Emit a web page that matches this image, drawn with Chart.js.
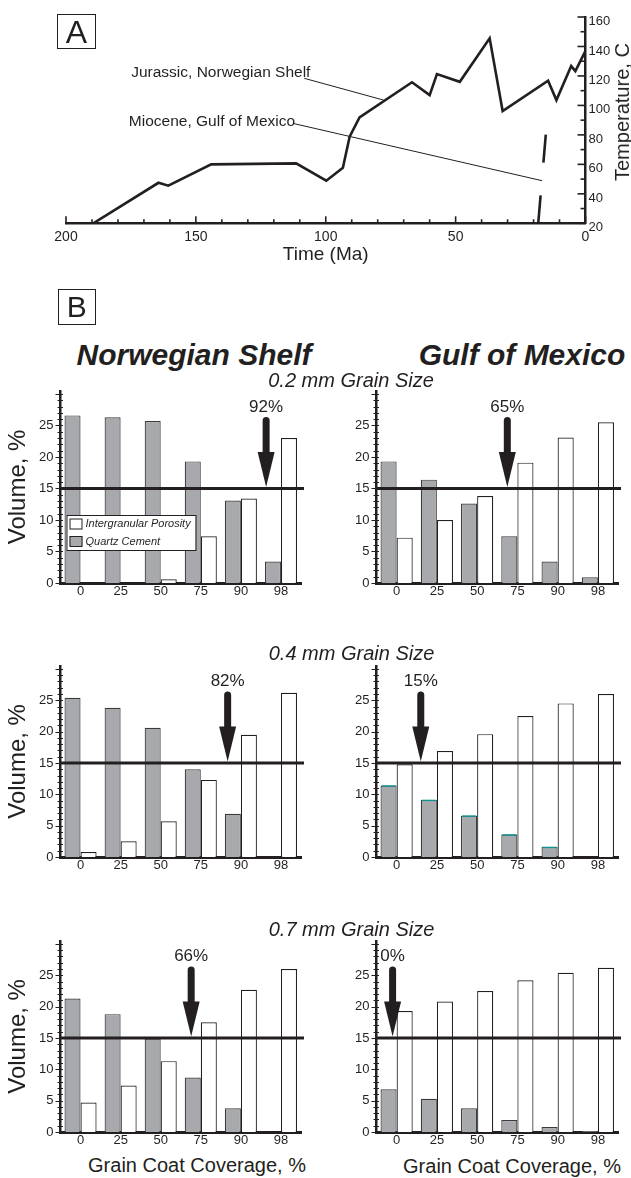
<!DOCTYPE html>
<html>
<head>
<meta charset="utf-8">
<script src="https://cdn.jsdelivr.net/npm/chart.js@4.4.1/dist/chart.umd.min.js"></script>
<style>
body { margin: 0; background: #fff; }
#page { position: relative; width: 631px; height: 1178px; background: #fff; overflow: hidden;
        font-family: "Liberation Sans", Arial, sans-serif; color: #231f20; }
canvas { position: absolute; }
.txt { position: absolute; white-space: nowrap; line-height: 1; transform: translate(-50%, -50%); }
.box { position: absolute; box-sizing: border-box; border: 1.5px solid #231f20; display: flex;
       align-items: center; justify-content: center; line-height: 1; }
</style>
</head>
<body>
<div id="page">
  <canvas id="chartA" width="631" height="270" style="left:0;top:0"></canvas>
  <canvas id="nsFine" width="315" height="227" style="left:0;top:376px"></canvas>
  <canvas id="gmFine" width="316" height="227" style="left:315px;top:376px"></canvas>
  <canvas id="nsMed" width="315" height="226" style="left:0;top:651px"></canvas>
  <canvas id="gmMed" width="316" height="226" style="left:315px;top:651px"></canvas>
  <canvas id="nsCoarse" width="315" height="226" style="left:0;top:926px"></canvas>
  <canvas id="gmCoarse" width="316" height="226" style="left:315px;top:926px"></canvas>

  <div class="box" style="left:57px;top:14px;width:39px;height:35px;font-size:32px">A</div>
  <div class="txt" style="left:622px;top:112px;font-size:20px;transform:translate(-50%,-50%) rotate(-90deg)">Temperature, C</div>

  <div class="box" style="left:57.5px;top:289px;width:38.5px;height:36px;font-size:30px">B</div>
  <div class="txt" style="left:194px;top:355px;font-size:30px;font-weight:bold;font-style:italic">Norwegian Shelf</div>
  <div class="txt" style="left:522px;top:355px;font-size:30px;font-weight:bold;font-style:italic">Gulf of Mexico</div>
  <div class="txt" style="left:351px;top:380px;font-size:20px;font-style:italic">0.2 mm Grain Size</div>
  <div class="txt" style="left:351.5px;top:652.5px;font-size:20px;font-style:italic">0.4 mm Grain Size</div>
  <div class="txt" style="left:351.5px;top:928.5px;font-size:20px;font-style:italic">0.7 mm Grain Size</div>
  <div class="txt" style="left:197px;top:1165px;font-size:20px">Grain Coat Coverage, %</div>
  <div class="txt" style="left:512px;top:1166px;font-size:20px">Grain Coat Coverage, %</div>
</div>

<script>
const ink = "#231f20";
const cementFill = "#a7a9ac";
const fontFamily = '"Liberation Sans", Arial, sans-serif';

// A: temperature history (age in Ma, temperature in C)
const shelfAge = [189.5, 164.4, 160.6, 144.1, 111.4, 99.8, 93.4, 90.8, 87.0, 66.8, 60.0, 57.2, 48.4, 36.9, 31.9, 14.4, 11.2, 5.5, 3.9, 0];
const shelfTemp = [20, 47.5, 45.5, 60, 60.7, 48.9, 57.7, 78.8, 91.9, 115.7, 107, 121.3, 116, 145.5, 96.2, 116.8, 103.6, 126.7, 123.3, 137];
const gulfAge = [18.2, 15.2];
const gulfTemp = [20, 82];

// callouts: text, text anchor, leader start, leader end (age, temp)
const calloutText = ["Jurassic, Norwegian Shelf", "Miocene, Gulf of Mexico"];
const calloutAt = [[174.9, 122.9], [175.8, 89.6]];
const leaderFrom = [[108.3, 118.4], [112.6, 87.8]];
const leaderTo = [[77.7, 103.6], [16.7, 48.9]];

// B: volume % by grain coat coverage
const coverage = ["0", "25", "50", "75", "90", "98"];
const nsCement02 = [26.6, 26.3, 25.7, 19.3, 13.1, 3.4];
const nsPoro02 = [0, 0, 0.6, 7.4, 13.4, 23.0];
const gmCement02 = [19.3, 16.4, 12.6, 7.4, 3.4, 0.9];
const gmPoro02 = [7.2, 10.0, 13.8, 19.1, 23.1, 25.5];
const nsCement04 = [25.4, 23.8, 20.6, 14.0, 6.9, 0];
const nsPoro04 = [0.8, 2.5, 5.7, 12.3, 19.5, 26.2];
const gmCement04 = [11.4, 9.1, 6.6, 3.6, 1.6, 0];
const gmPoro04 = [14.8, 16.9, 19.6, 22.5, 24.5, 26.0];
const nsCement07 = [21.3, 18.8, 14.9, 8.7, 3.8, 0];
const nsPoro07 = [4.7, 7.4, 11.3, 17.5, 22.7, 26.0];
const gmCement07 = [6.8, 5.3, 3.8, 1.9, 0.8, 0.15];
const gmPoro07 = [19.3, 20.8, 22.5, 24.2, 25.4, 26.2];

const porosityCutoff = 15;
const arrowLabels = ["92%", "65%", "82%", "15%", "66%", "0%"];
// arrow positions along the category axis (category index units)
const arrowPos = [4.63, 2.75, 3.67, 0.6, 2.76, -0.1];

Chart.defaults.font.family = fontFamily;
Chart.defaults.color = ink;

function pts(xs, ys) {
	return xs.map((v, i) => ({ x: v, y: ys[i] }));
}

const panelAMarks = {
	id: "panelAMarks",
	afterDatasetsDraw(chart) {
		const { ctx, chartArea: a, scales: { x, y } } = chart;
		ctx.save();
		ctx.strokeStyle = ink;
		ctx.lineWidth = 1.6;
		for (let t = 0; t <= 200; t += 10) {
			const px = x.getPixelForValue(t);
			ctx.beginPath();
			ctx.moveTo(px, a.bottom);
			ctx.lineTo(px, a.bottom - (t % 50 ? 4 : 7));
			ctx.stroke();
		}
		for (let c = 20; c <= 160; c += 10) {
			const py = y.getPixelForValue(c);
			ctx.beginPath();
			ctx.moveTo(a.right, py);
			ctx.lineTo(a.right - (c % 20 ? 5 : 8), py);
			ctx.stroke();
		}
		ctx.lineWidth = 1;
		for (let i = 0; i < calloutText.length; i++) {
			ctx.beginPath();
			ctx.moveTo(x.getPixelForValue(leaderFrom[i][0]), y.getPixelForValue(leaderFrom[i][1]));
			ctx.lineTo(x.getPixelForValue(leaderTo[i][0]), y.getPixelForValue(leaderTo[i][1]));
			ctx.stroke();
			ctx.font = "15.5px " + fontFamily;
			ctx.fillStyle = ink;
			ctx.textAlign = "left";
			ctx.textBaseline = "alphabetic";
			ctx.fillText(calloutText[i], x.getPixelForValue(calloutAt[i][0]), y.getPixelForValue(calloutAt[i][1]) + 5.5);
		}
		ctx.restore();
	},
};

new Chart(document.getElementById("chartA"), {
	type: "scatter",
	data: {
		datasets: [
			{
				label: "Jurassic, Norwegian Shelf",
				data: pts(shelfAge, shelfTemp),
				showLine: true,
				borderColor: ink,
				borderWidth: 2.6,
				pointRadius: 0,
			},
			{
				label: "Miocene, Gulf of Mexico",
				data: pts(gulfAge, gulfTemp),
				showLine: true,
				borderColor: ink,
				borderWidth: 2.6,
				borderDash: [28, 33],
				pointRadius: 0,
			},
		],
	},
	options: {
		responsive: false,
		animation: false,
		layout: { padding: { left: 66, top: 17, right: 0, bottom: 0 } },
		plugins: { legend: { display: false }, tooltip: { enabled: false } },
		scales: {
			x: {
				type: "linear",
				position: "bottom",
				min: 0,
				max: 200,
				reverse: true,
				grid: { display: false, drawTicks: false },
				border: { color: ink, width: 2.5 },
				ticks: { stepSize: 50, font: { size: 14 }, padding: 5 },
				title: { display: true, text: "Time (Ma)", font: { size: 19 } },
				afterFit: (s) => { s.height = 46.7; },
			},
			y: {
				type: "linear",
				position: "right",
				min: 20,
				max: 160,
				grid: { display: false, drawTicks: false },
				border: { color: ink, width: 2.5 },
				ticks: { stepSize: 20, font: { size: 13 }, padding: 3, labelOffset: 4.5 },
				afterFit: (s) => { s.width = 45.5; },
			},
		},
	},
	plugins: [panelAMarks],
});

const cutoffArrow = {
	id: "cutoffArrow",
	afterDatasetsDraw(chart, args, o) {
		const { ctx, chartArea: a, scales: { x, y } } = chart;
		ctx.save();
		ctx.strokeStyle = ink;
		ctx.fillStyle = ink;

		// teal rim on cement bars (only where the source shows it)
		if (o.rim) {
			ctx.strokeStyle = o.rim;
			ctx.lineWidth = 1.5;
			chart.getDatasetMeta(0).data.forEach((b) => {
				if (b.base - b.y < 2) return;
				ctx.beginPath();
				ctx.moveTo(b.x - b.width / 2 + 1, b.y + 0.5);
				ctx.lineTo(b.x + b.width / 2 - 1, b.y + 0.5);
				ctx.stroke();
			});
			ctx.strokeStyle = ink;
		}

		// minor ticks on the volume axis
		ctx.lineWidth = 1;
		for (let v = 0; v <= 30; v++) {
			const py = Math.round(y.getPixelForValue(v)) + 0.5;
			ctx.beginPath();
			ctx.moveTo(a.left - (v % 5 ? 3 : 5), py);
			ctx.lineTo(a.left + 2.5, py);
			ctx.stroke();
		}

		// 15 % cut-off line
		const ly = y.getPixelForValue(porosityCutoff);
		ctx.lineWidth = 3;
		ctx.beginPath();
		ctx.moveTo(a.left - 1, ly);
		ctx.lineTo(a.right + 3, ly);
		ctx.stroke();

		// arrow + label
		const ax = x.getPixelForValue(o.at);
		const tip = ly - 1.5;
		ctx.beginPath();
		ctx.moveTo(ax - 8.5, tip - 35);
		ctx.lineTo(ax + 8.5, tip - 35);
		ctx.lineTo(ax, tip);
		ctx.closePath();
		ctx.fill();
		ctx.lineWidth = 7;
		ctx.lineCap = "round";
		ctx.beginPath();
		ctx.moveTo(ax, tip - 34);
		ctx.lineTo(ax, tip - 66.5);
		ctx.stroke();
		ctx.font = "17px " + fontFamily;
		ctx.textAlign = "center";
		ctx.textBaseline = "alphabetic";
		ctx.fillText(o.label, ax, tip - 81 + 6);

		if (o.legend) {
			const lx = a.left + 6;
			const ty = a.bottom - 68;
			ctx.lineWidth = 1;
			ctx.fillStyle = "#fff";
			ctx.fillRect(lx, ty, 129, 35);
			ctx.strokeRect(lx + 0.5, ty + 0.5, 129, 35);
			const rows = [["#fff", "Intergranular Porosity", 8.5], [cementFill, "Quartz Cement", 26]];
			ctx.font = "italic 11px " + fontFamily;
			ctx.textAlign = "left";
			ctx.textBaseline = "middle";
			rows.forEach(([fill, text, dy]) => {
				ctx.fillStyle = fill;
				ctx.fillRect(lx + 3, ty + dy - 5, 13, 10);
				ctx.strokeRect(lx + 3.5, ty + dy - 4.5, 12, 10);
				ctx.fillStyle = ink;
				ctx.fillText(text, lx + 19, ty + dy + 0.5);
			});
		}
		ctx.restore();
	},
};

function barChart(id, cement, poro, k, left) {
	return new Chart(document.getElementById(id), {
		type: "bar",
		data: {
			labels: coverage,
			datasets: [
				{ label: "Quartz Cement", data: cement, backgroundColor: cementFill, borderColor: "#3b3b3d", borderWidth: 1.2 },
				{ label: "Intergranular Porosity", data: poro, backgroundColor: "#fff", borderColor: ink, borderWidth: 1.2 },
			],
		},
		options: {
			responsive: false,
			animation: false,
			layout: { padding: { left: 0, right: left ? 14 : 13, top: 10, bottom: 0 } },
			datasets: { bar: { categoryPercentage: 0.8, barPercentage: 1 } },
			plugins: {
				legend: { display: false },
				tooltip: { enabled: false },
				cutoffArrow: { at: arrowPos[k], label: arrowLabels[k], legend: k === 0, rim: k === 3 ? "#12918f" : null },
			},
			scales: {
				x: {
					z: 1,
					grid: { display: false, drawTicks: false },
					border: { color: ink, width: 3 },
					ticks: { font: { size: 13 }, padding: 1 },
					afterFit: (s) => { s.height = 20; },
				},
				y: {
					z: 1,
					min: 0,
					max: 30.5,
					grid: { display: false, drawTicks: false },
					border: { color: ink, width: 2.5 },
					ticks: {
						stepSize: 5,
						font: { size: 13 },
						padding: 7,
						callback: (v) => (v % 5 === 0 && v <= 25 ? v : ""),
					},
					title: { display: left, text: "Volume, %", font: { size: 24 } },
					afterFit: (s) => { s.width = left ? 60.5 : 61.5; },
				},
			},
		},
		plugins: [cutoffArrow],
	});
}

barChart("nsFine", nsCement02, nsPoro02, 0, true);
barChart("gmFine", gmCement02, gmPoro02, 1, false);
barChart("nsMed", nsCement04, nsPoro04, 2, true);
barChart("gmMed", gmCement04, gmPoro04, 3, false);
barChart("nsCoarse", nsCement07, nsPoro07, 4, true);
barChart("gmCoarse", gmCement07, gmPoro07, 5, false);
</script>
</body>
</html>
